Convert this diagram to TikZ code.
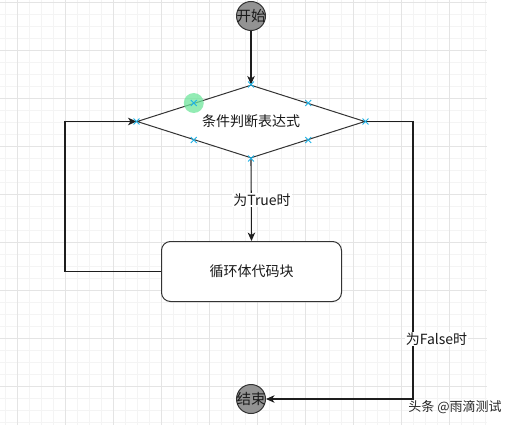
\documentclass[tikz,border=0pt]{standalone}
\usepackage{fontspec}
\setmainfont{Noto Sans CJK SC}
\usetikzlibrary{arrows.meta,shapes.geometric,shapes.misc,calc}
\definecolor{gridminor}{HTML}{F4F4F4}
\definecolor{gridmajor}{HTML}{E4E4E4}
\definecolor{linec}{HTML}{1E1E1E}
\definecolor{shapec}{HTML}{333333}
\definecolor{termfill}{HTML}{939393}
\definecolor{markc}{HTML}{1FB2E6}
\definecolor{hlgreen}{HTML}{6FE69C}
\tikzset{
  term/.style={circle, draw=shapec, fill=termfill, line width=1pt, minimum size=29pt, inner sep=0pt},
  termtext/.style={inner sep=0pt, text=black!90, font=\fontsize{14.5}{16}\selectfont},
  decision/.style={diamond, draw=shapec, fill=white, line width=1pt, minimum width=228pt, minimum height=73pt, aspect=3.12, inner sep=0pt},
  procbox/.style={rectangle, rounded corners=9pt, draw=shapec, fill=white, line width=1pt, minimum width=180pt, minimum height=60pt},
  arr/.style={draw=linec, line width=1.1pt, -{Stealth[length=8.5pt,width=7.5pt,inset=2.5pt]}},
  edgelbl/.style={fill=white, inner sep=1pt, text=black!90},
  mk/.style={cross out, draw=markc, line width=0.9pt, minimum size=5pt, inner sep=0pt},
  hl/.style={circle, fill=hlgreen, fill opacity=0.75, minimum size=20pt, inner sep=0pt},
}
\begin{document}
\begin{tikzpicture}[x=1pt,y=-1pt, font=\fontsize{14}{16}\selectfont]
\useasboundingbox (0,0) rectangle (513,425);
% background grid
\foreach \x in {5,17,...,485} \draw[gridminor, line width=0.6pt] (\x,0) -- (\x,425);
\foreach \y in {2,14,...,422} \draw[gridminor, line width=0.6pt] (0,\y) -- (487,\y);
\foreach \x in {17,65,...,449} \draw[gridmajor, line width=0.7pt] (\x,0) -- (\x,425);
\foreach \y in {2,50,...,386} \draw[gridmajor, line width=0.7pt] (0,\y) -- (487,\y);

% nodes
\node[term] (start) at (251,16) {};
\node[termtext] (startt) at (start) {开始};
\node[decision] (cond) at (251,121.5) {};
\node[inner sep=0pt, text=black!90] (condt) at (cond) {条件判断表达式};
\node[procbox, text=black!90] (body) at (251.5,271.5) {循环体代码块};
\node[term] (end) at (251,399) {};
\node[termtext] (endt) at (end) {结束};

% helper coordinates
\coordinate (loopc) at (65,271.5);
\coordinate (falsec) at (413,399);

% connectors
\draw[arr] (start) -- (cond.north);
\draw[arr] (cond.south) -- (body.north);
\draw[arr] (body.west) -- (loopc) |- (cond.west);
\draw[arr] (cond.east) -| (falsec) -- (end);

% edge labels
\node[edgelbl] (truel) at (262,200) {为True时};
\node[edgelbl] (falsel) at (436.5,339) {为False时};

% highlight and connection markers
\node[hl] (hlc) at ($(cond.north)!0.5!(cond.west)$) {};
\node[mk] (m1) at (cond.north) {};
\node[mk] (m2) at (cond.south) {};
\node[mk] (m3) at (cond.east) {};
\node[mk] (m4) at (cond.west) {};
\node[mk] (m5) at ($(cond.north)!0.5!(cond.west)$) {};
\node[mk] (m6) at ($(cond.north)!0.5!(cond.east)$) {};
\node[mk] (m7) at ($(cond.south)!0.5!(cond.west)$) {};
\node[mk] (m8) at ($(cond.south)!0.5!(cond.east)$) {};

% watermark
\node[text=black!85, font=\fontsize{13}{15}\selectfont] (wm) at (455,407) {头条 @雨滴测试};
\end{tikzpicture}
\end{document}
